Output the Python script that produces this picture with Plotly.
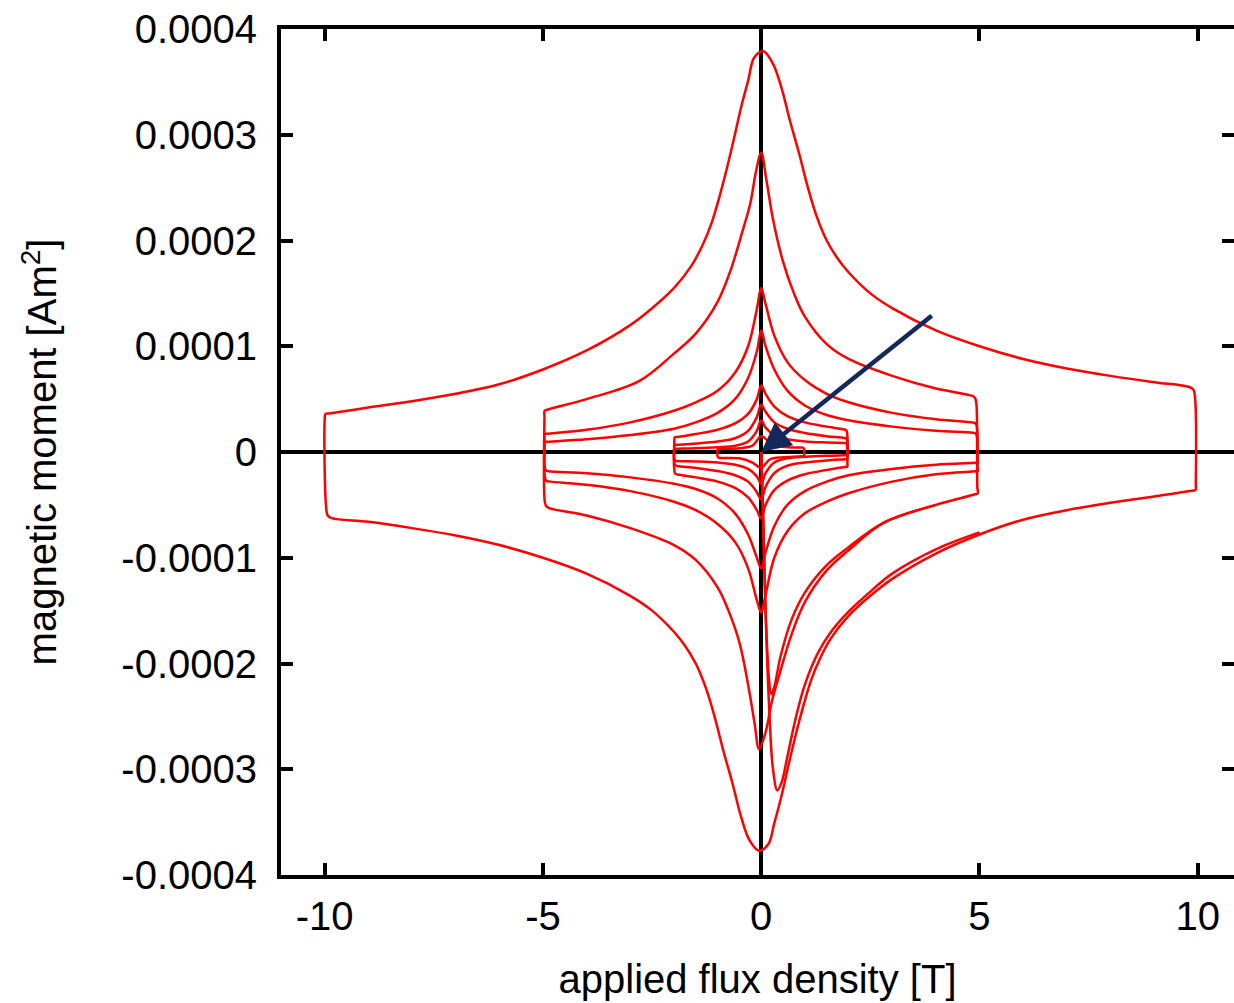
import plotly.graph_objects as go

SCALE = 1e-4  # moments below are read in units of 1e-4 A m^2

# ---------------- 10 T loop (closed: lower branch, right edge, upper branch, left edge) ----------------
loop10_x = [-9.97, -9.93, -9.84, -9, -8, -7, -6, -5, -4, -3, -2.5, -2, -1.75, -1.5, -1.26, -1.07, -0.87, -0.66, -0.46, -0.27, -0.05,
            0.16, 0.30, 0.46, 0.62, 0.80, 0.98, 1.15, 1.35, 1.6, 2, 2.5, 3, 4, 5, 6, 7, 8, 9, 9.9, 9.95,
            9.955, 9.94, 9.90, 9.80, 9, 8, 7, 6, 5, 4, 3, 2.5, 2, 1.75, 1.5, 1.26, 1.07, 0.87, 0.66, 0.46, 0.27, 0.05,
            -0.16, -0.30, -0.46, -0.62, -0.80, -0.98, -1.15, -1.35, -1.6, -2, -2.5, -3, -4, -5, -6, -7, -8, -9, -9.9, -9.98,
            -10.0, -9.97]
loop10_m = [-0.5, -0.6, -0.625, -0.66, -0.72, -0.79, -0.88, -1.0, -1.15, -1.36, -1.5, -1.7, -1.83, -2.0, -2.24, -2.5, -2.82, -3.13, -3.45, -3.67, -3.77,
            -3.71, -3.51, -3.26, -2.97, -2.66, -2.38, -2.15, -1.95, -1.76, -1.55, -1.36, -1.2, -0.96, -0.78, -0.64, -0.55, -0.48, -0.42, -0.365, -0.36,
            -0.3, 0.5, 0.59, 0.615, 0.66, 0.72, 0.79, 0.88, 1.0, 1.15, 1.36, 1.5, 1.7, 1.83, 2.0, 2.24, 2.5, 2.82, 3.13, 3.45, 3.67, 3.79,
            3.73, 3.51, 3.26, 2.97, 2.66, 2.38, 2.15, 1.95, 1.76, 1.55, 1.36, 1.2, 0.96, 0.78, 0.64, 0.55, 0.48, 0.42, 0.365, 0.36,
            0.3, -0.5]

# virgin (first increasing-field) curves
v10_x = [0, 0.04, 0.10, 0.18, 0.27, 0.37, 0.47, 0.6, 0.8, 1.0, 1.3, 1.6, 2.0, 2.5, 3.0, 4.0, 5.0]
v10_m = [0, -0.5, -1.5, -2.4, -3.0, -3.2, -3.12, -2.88, -2.5, -2.2, -1.9, -1.7, -1.51, -1.32, -1.15, -0.92, -0.76]

v5_x = [0, 0.04, 0.10, 0.17, 0.23, 0.30, 0.45, 0.7, 1.0, 1.5, 2.0, 2.8, 4.0]
v5_m = [0, -0.6, -1.5, -2.1, -2.29, -2.22, -1.92, -1.58, -1.33, -1.07, -0.9, -0.67, -0.5]

# ---------------- 5 T loops ----------------
a5_x = [-4.96, -4.93, -4.86, -4, -3, -2, -1.5, -1, -0.75, -0.5, -0.30, -0.15, -0.05, 0.10, 0.25, 0.42, 0.7, 1, 1.5, 2, 2.8, 4, 4.9, 4.96,
        4.95, 4.93, 4.9, 4.84, 4, 3, 2, 1.5, 1, 0.75, 0.5, 0.27, 0.12, 0, -0.12, -0.25, -0.42, -0.7, -1, -1.5, -2, -2.8, -4, -4.9, -4.96,
        -4.965, -4.96]
a5_m = [-0.46, -0.51, -0.53, -0.6, -0.72, -0.88, -1.02, -1.28, -1.5, -1.8, -2.2, -2.57, -2.81, -2.65, -2.35, -2.1, -1.72, -1.42, -1.12, -0.93, -0.67, -0.5, -0.4, -0.39,
        -0.33, 0.45, 0.51, 0.53, 0.6, 0.72, 0.88, 1.02, 1.28, 1.5, 1.8, 2.2, 2.57, 2.83, 2.65, 2.35, 2.1, 1.72, 1.42, 1.12, 0.93, 0.67, 0.5, 0.4, 0.39,
        0.33, -0.46]

b5_x = [-4.96, -4.93, -4.87, -4, -3, -2, -1.5, -1, -0.6, -0.3, -0.1, 0, 0.1, 0.3, 0.6, 1, 1.5, 2, 3, 4, 4.9, 4.96,
        4.955, 4.94, 4.91, 4.85, 4, 3, 2, 1.5, 1, 0.6, 0.3, 0.1, 0, -0.1, -0.3, -0.6, -1, -1.5, -2, -3, -4, -4.9, -4.96,
        -4.965, -4.96]
b5_m = [-0.22, -0.27, -0.278, -0.31, -0.37, -0.47, -0.55, -0.68, -0.85, -1.1, -1.4, -1.52, -1.35, -1.0, -0.75, -0.58, -0.47, -0.39, -0.28, -0.21, -0.183, -0.18,
        -0.13, 0.24, 0.27, 0.278, 0.31, 0.37, 0.47, 0.55, 0.68, 0.85, 1.1, 1.4, 1.55, 1.35, 1.0, 0.75, 0.58, 0.47, 0.39, 0.28, 0.21, 0.173, 0.17,
        0.12, -0.22]

c5_x = [-4.96, -4.93, -4.87, -4, -3, -2, -1.5, -1, -0.6, -0.3, -0.1, 0, 0.1, 0.3, 0.6, 1, 1.5, 2, 3, 4, 4.9, 4.96,
        4.955, 4.94, 4.91, 4.85, 4, 3, 2, 1.5, 1, 0.6, 0.3, 0.1, 0, -0.1, -0.3, -0.6, -1, -1.5, -2, -3, -4, -4.9, -4.96,
        -4.965, -4.96]
c5_m = [-0.14, -0.175, -0.182, -0.2, -0.24, -0.3, -0.35, -0.44, -0.58, -0.78, -1.0, -1.1, -0.95, -0.7, -0.5, -0.37, -0.28, -0.22, -0.16, -0.12, -0.102, -0.10,
        -0.06, 0.15, 0.175, 0.182, 0.2, 0.24, 0.3, 0.35, 0.44, 0.58, 0.78, 1.0, 1.15, 0.95, 0.7, 0.5, 0.37, 0.28, 0.22, 0.16, 0.12, 0.097, 0.095,
        0.06, -0.14]

# ---------------- 2 T loops ----------------
d2_x = [-1.99, -1.97, -1.92, -1.5, -1, -0.6, -0.3, -0.1, 0, 0.1, 0.3, 0.6, 1, 1.5, 1.92, 1.97,
        1.975, 1.97, 1.95, 1.9, 1.5, 1, 0.6, 0.3, 0.1, 0, -0.1, -0.3, -0.6, -1, -1.5, -1.92, -1.98, -1.99, -1.99]
d2_m = [-0.17, -0.205, -0.212, -0.24, -0.28, -0.34, -0.43, -0.55, -0.63, -0.5, -0.36, -0.27, -0.21, -0.17, -0.142, -0.14,
        -0.1, 0.17, 0.205, 0.212, 0.24, 0.28, 0.34, 0.43, 0.55, 0.63, 0.5, 0.36, 0.27, 0.21, 0.17, 0.142, 0.14, 0.1, -0.17]

e2_x = [-1.99, -1.97, -1.92, -1.5, -1, -0.6, -0.3, -0.1, 0, 0.1, 0.3, 0.6, 1, 1.5, 1.92, 1.97,
        1.975, 1.97, 1.95, 1.9, 1.5, 1, 0.6, 0.3, 0.1, 0, -0.1, -0.3, -0.6, -1, -1.5, -1.92, -1.98, -1.99, -1.99]
e2_m = [-0.1, -0.126, -0.132, -0.15, -0.18, -0.22, -0.28, -0.38, -0.45, -0.33, -0.2, -0.13, -0.1, -0.08, -0.068, -0.066,
        -0.04, 0.1, 0.126, 0.132, 0.15, 0.18, 0.22, 0.28, 0.38, 0.45, 0.33, 0.2, 0.13, 0.1, 0.08, 0.068, 0.066, 0.04, -0.1]

f2_x = [-1.99, -1.97, -1.92, -1.5, -1, -0.6, -0.3, -0.1, 0, 0.1, 0.3, 0.6, 1, 1.5, 1.92, 1.97,
        1.975, 1.97, 1.95, 1.9, 1.5, 1, 0.6, 0.3, 0.1, 0, -0.1, -0.3, -0.6, -1, -1.5, -1.92, -1.98, -1.99, -1.99]
f2_m = [-0.06, -0.082, -0.086, -0.09, -0.1, -0.12, -0.16, -0.23, -0.3, -0.2, -0.1, -0.06, -0.045, -0.035, -0.031, -0.03,
        -0.01, 0.06, 0.082, 0.086, 0.09, 0.1, 0.12, 0.16, 0.23, 0.3, 0.2, 0.1, 0.06, 0.045, 0.035, 0.031, 0.03, 0.01, -0.06]

# ---------------- 1 T loop ----------------
g1_x = [-1.0, -0.98, -0.93, -0.5, -0.2, 0, 0.2, 0.5, 0.93, 0.98, 0.985, 0.98, 0.96, 0.9, 0.5, 0.2, 0, -0.2, -0.5, -0.93, -0.99, -1.0, -1.0]
g1_m = [-0.04, -0.053, -0.056, -0.06, -0.1, -0.15, -0.07, -0.05, -0.041, -0.04, -0.02, 0.03, 0.04, 0.042, 0.05, 0.09, 0.15, 0.06, 0.035, 0.031, 0.03, 0.01, -0.04]

curves = [(loop10_x, loop10_m), (v10_x, v10_m), (v5_x, v5_m), (a5_x, a5_m), (b5_x, b5_m),
          (c5_x, c5_m), (d2_x, d2_m), (e2_x, e2_m), (f2_x, f2_m), (g1_x, g1_m)]

x_ticks = [-10, -5, 0, 5, 10]
x_ticktext = ["-10", "-5", "0", "5", "10"]
y_ticks = [-0.0004, -0.0003, -0.0002, -0.0001, 0, 0.0001, 0.0002, 0.0003, 0.0004]
y_ticktext = ["-0.0004", "-0.0003", "-0.0002", "-0.0001", "0", "0.0001", "0.0002", "0.0003", "0.0004"]
y_range = [-0.0004, 0.0004]

fig = go.Figure()
for i, (cx, cm) in enumerate(curves):
    fig.add_trace(go.Scatter(x=cx, y=[v * SCALE for v in cm], mode="lines",
                             yaxis="y2" if i == len(curves) - 1 else "y",
                             line=dict(color="#ff0000", width=2.5, shape="spline", smoothing=1.0),
                             hoverinfo="skip"))

fig.add_annotation(x=0, y=0, ax=3.94, ay=1.30e-4, xref="x", yref="y", axref="x", ayref="y",
                   text="", showarrow=True, arrowhead=2, arrowsize=1.3, arrowwidth=4.5,
                   arrowcolor="#13295c", standoff=0)

tick_common = dict(showgrid=False, ticks="inside", ticklen=12, tickwidth=4, tickcolor="black",
                   tickfont=dict(size=40, color="black"), automargin=False)

fig.update_layout(
    width=1234, height=1003,
    margin=dict(l=281, r=0, t=29, b=128, autoexpand=False),
    plot_bgcolor="white", paper_bgcolor="white",
    showlegend=False,
    font=dict(family="Liberation Sans, Arial, sans-serif", size=40, color="black"),
    xaxis=dict(range=[-11, 10.83], tickvals=x_ticks, ticktext=x_ticktext,
               ticklabelstandoff=3,
               showline=True, linewidth=4, linecolor="black", mirror="ticks",
               zeroline=True, zerolinewidth=4, zerolinecolor="black",
               title=dict(text="applied flux density [T]", standoff=29, font=dict(size=40)),
               **tick_common),
    yaxis=dict(range=y_range, tickvals=y_ticks, ticktext=y_ticktext,
               ticklabelstandoff=12,
               showline=True, linewidth=4, linecolor="black", mirror=False,
               zeroline=True, zerolinewidth=4, zerolinecolor="black",
               title=dict(text="magnetic moment [Am<sup>2</sup>]", standoff=53, font=dict(size=40)),
               **tick_common),
    yaxis2=dict(range=y_range, tickvals=y_ticks, overlaying="y", side="right", anchor="x",
                showticklabels=False, showline=False, zeroline=False, **tick_common),
)

fig.write_html("out.html")
